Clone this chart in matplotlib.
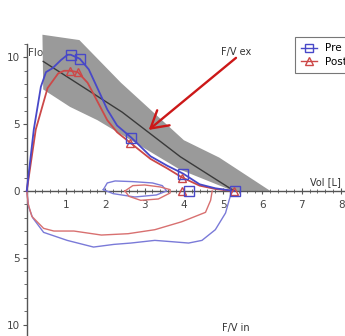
import matplotlib
matplotlib.use("Agg")
import matplotlib.pyplot as plt
from matplotlib.ticker import FixedLocator, FuncFormatter

# predicted range (grey band) and predicted line
band_vol = [0.40, 1.34, 2.40, 4.00, 4.90, 6.20, 5.25, 3.90, 1.80, 1.10, 0.42]
band_flow = [11.7, 11.3, 8.1, 3.8, 2.5, 0.0, 0.0, 1.6, 5.3, 6.3, 7.6]
pred_vol = [0.42, 2.43, 3.91, 5.28]
pred_flow = [9.7, 5.9, 2.56, 0.0]

# expiratory curves
pre_ex_vol = [0, 0.18, 0.36, 0.49, 0.66, 0.87, 1.04, 1.12, 1.35, 1.58, 1.80, 2.05,
              2.30, 2.66, 3.15, 3.57, 3.98, 4.40, 4.80, 5.28]
pre_ex_flow = [0, 4.6, 7.8, 8.9, 9.2, 9.8, 10.2, 10.2, 9.9, 9.1, 7.7, 6.1,
               4.9, 4.0, 2.6, 1.9, 1.3, 0.5, 0.2, 0.0]
post_ex_vol = [0, 0.23, 0.53, 0.80, 0.95, 1.10, 1.30, 1.55, 1.80, 2.05,
               2.30, 2.64, 3.15, 3.57, 3.96, 4.40, 4.80, 5.25]
post_ex_flow = [0, 4.6, 7.7, 8.8, 9.0, 9.0, 8.9, 8.1, 6.7, 5.3,
                4.4, 3.6, 2.4, 1.7, 1.0, 0.4, 0.15, 0.0]

# inspiratory curves (flow negative)
pre_in_vol = [0, 0.05, 0.15, 0.43, 1.03, 1.70, 2.22, 2.65, 3.26, 3.70, 4.12,
              4.46, 4.80, 5.06, 5.15, 5.22]
pre_in_flow = [0, -1.2, -2.0, -3.1, -3.7, -4.2, -4.0, -3.9, -3.7, -3.8, -3.9,
               -3.7, -2.9, -1.65, -0.7, 0.0]
post_in_vol = [0, 0.04, 0.13, 0.43, 0.69, 1.20, 1.90, 2.58, 3.26, 3.95, 4.55,
               4.68, 4.72]
post_in_flow = [0, -1.0, -1.9, -2.8, -3.0, -3.0, -3.3, -3.2, -2.9, -2.3, -1.6,
                -0.7, 0.0]

# tidal loops
pre_tid_vol = [1.95, 2.05, 2.25, 2.70, 3.20, 3.45, 3.56, 3.30, 2.75, 2.20, 1.95]
pre_tid_flow = [0.1, 0.6, 0.75, 0.7, 0.6, 0.4, 0.0, -0.3, -0.45, -0.2, 0.1]
post_tid_vol = [2.50, 2.70, 3.00, 3.40, 3.65, 3.65, 3.35, 2.90, 2.60, 2.50]
post_tid_flow = [0.0, 0.4, 0.45, 0.3, 0.1, -0.15, -0.6, -0.7, -0.4, 0.0]

# marker points
pre_mk_vol = [1.12, 1.35, 2.66, 3.98, 5.30, 4.12]
pre_mk_flow = [10.2, 9.9, 4.0, 1.3, 0.0, 0.0]
post_mk_vol = [1.10, 1.30, 2.64, 3.96, 5.27, 3.96]
post_mk_flow = [9.0, 8.9, 3.6, 1.0, 0.0, 0.0]

x_major = [1, 2, 3, 4, 5, 6, 7, 8]
x_minor = [i / 5 for i in range(1, 41) if i % 5]
y_major = [-10, -5, 0, 5, 10]
y_minor = [v for v in range(-11, 12) if v % 5]

blue = "#4848c8"
red = "#cc4848"
blue_in = "#7a7ad8"
red_in = "#d87070"

fig = plt.figure(figsize=(3.45, 3.36), dpi=100)
ax = fig.add_axes([0, 0, 1, 1])
ax.set_xlim(-0.68, 8.10)
ax.set_ylim(-10.86, 14.3)

ax.text(0.04, 10.4, "Flow [L/s]", fontsize=7.5, color="#444444",
        ha="left", va="center", zorder=1)
ax.fill(band_vol, band_flow, color="#9a9a9a", lw=0, zorder=2)
ax.plot(pred_vol, pred_flow, color="#3a3a3a", lw=1.0, zorder=3)

ax.plot(pre_in_vol, pre_in_flow, color=blue_in, lw=1.0, zorder=4)
ax.plot(post_in_vol, post_in_flow, color=red_in, lw=1.0, zorder=4)
ax.plot(pre_tid_vol, pre_tid_flow, color=blue_in, lw=1.0, zorder=4)
ax.plot(post_tid_vol, post_tid_flow, color=red_in, lw=1.0, zorder=4)

ax.plot(post_ex_vol, post_ex_flow, color=red, lw=1.3, zorder=5)
ax.plot(pre_ex_vol, pre_ex_flow, color=blue, lw=1.3, zorder=5)
ax.plot(post_mk_vol, post_mk_flow, ls="none", marker="^", ms=6, mfc="none",
        mec=red, mew=1.0, zorder=6)
ax.plot(pre_mk_vol, pre_mk_flow, ls="none", marker="s", ms=6.5, mfc="none",
        mec=blue, mew=1.0, zorder=6)

# legend handles
ax.plot([], [], color=blue, marker="s", mfc="none", ms=6, lw=1, label="Pre")
ax.plot([], [], color=red, marker="^", mfc="none", ms=6, lw=1, label="Post")
leg = ax.legend(loc="upper left", bbox_to_anchor=(295 / 345, 1 - 37 / 336),
                fontsize=7.5, fancybox=False, framealpha=1, edgecolor="#777777",
                handlelength=1.5, handletextpad=0.75, borderpad=0.6,
                borderaxespad=0, labelspacing=0.35)
leg.get_frame().set_linewidth(0.8)

ax.annotate("", xy=(3.05, 4.44), xytext=(5.38, 10.1),
            arrowprops=dict(arrowstyle="->,head_length=1.2,head_width=0.7",
                            mutation_scale=10, color="#cc1818", lw=1.7),
            zorder=7)

ax.text(5.33, 10.4, "F/V ex", fontsize=7, color="#333333", ha="center", va="center")
ax.text(8.0, 0.7, "Vol [L]", fontsize=7, color="#333333", ha="right", va="center")
ax.text(5.33, -10.26, "F/V in", fontsize=7, color="#333333", ha="center", va="center")

# axes through the origin
for s in ["top", "right"]:
    ax.spines[s].set_visible(False)
ax.spines["left"].set_position(("data", 0))
ax.spines["bottom"].set_position(("data", 0))
ax.spines["left"].set_bounds(-11, 11)
ax.spines["bottom"].set_bounds(0, 8.1)
for s in ["left", "bottom"]:
    ax.spines[s].set_color("#555555")
    ax.spines[s].set_linewidth(1.0)

ax.xaxis.set_major_locator(FixedLocator(x_major))
ax.xaxis.set_minor_locator(FixedLocator(x_minor))
ax.yaxis.set_major_locator(FixedLocator(y_major))
ax.yaxis.set_minor_locator(FixedLocator(y_minor))
ax.yaxis.set_major_formatter(FuncFormatter(lambda v, p: f"{abs(v):.0f}"))
ax.tick_params(axis="x", which="major", direction="inout", length=5, width=0.8,
               colors="#555555", labelsize=7.5, labelcolor="#444444", pad=4)
ax.tick_params(axis="x", which="minor", direction="inout", length=3, width=0.6,
               colors="#555555")
ax.tick_params(axis="y", which="major", direction="out", length=3, width=0.8,
               colors="#555555", labelsize=7.5, labelcolor="#444444", pad=2)
ax.tick_params(axis="y", which="minor", direction="out", length=2, width=0.6,
               colors="#555555")

fig.savefig("out.png", dpi=100)
